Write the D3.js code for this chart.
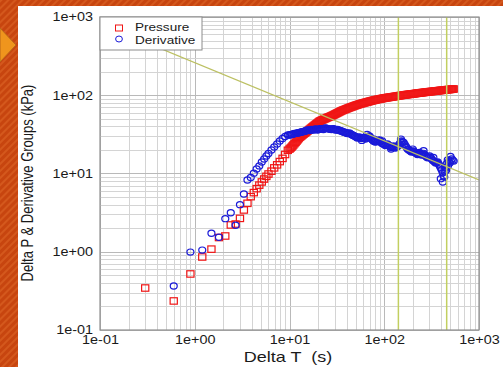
<!DOCTYPE html>
<html><head><meta charset="utf-8">
<script src="https://cdn.jsdelivr.net/npm/d3@7"></script>
<style>
body{margin:0;background:#fff;}
svg{display:block;}
text{font-family:"Liberation Sans",Arial,Helvetica,sans-serif;fill:#1a1a1a;white-space:pre;}
</style>
</head><body>
<svg id="c" width="503" height="367"></svg>
<script>
// ---- data ----
const earlyPressureTime = [0.3,0.6,0.9,1.2,1.5,1.8,2.1,2.4,2.7,3.0,3.3,3.6,3.9,4.2,4.5,4.8,5.1,5.4,5.7,6.0,6.45,6.9,7.4,7.9,8.45,9.0,9.6];
const earlyPressureValue = [0.344,0.235,0.52,0.857,1.08,1.52,1.59,2.20,2.26,2.67,3.42,4.16,5.06,5.7,6.4,7.1,7.8,8.5,9.2,9.85,10.7,11.8,12.9,14.2,15.6,17.5,19.8];
const earlyDerivativeTime = [0.6,0.9,1.2,1.5,1.8,2.1,2.4,2.7,3.0,3.3,3.6,3.9,4.2,4.5,4.8,5.1,5.4,5.7,6.0,6.45,6.9,7.4,7.9,8.45,9.0,9.6];
const earlyDerivativeValue = [0.365,0.99,1.05,1.72,1.53,2.65,3.15,2.18,4.0,5.47,8.26,8.9,10.1,11.4,12.5,14.0,15.3,16.7,18.0,20.0,21.8,23.8,26.0,28.0,29.7,31.0];
const lateTime = [10,10.5,11,11.6,12.2,12.8,13.4,14.1,14.8,15.5,16.3,17.1,17.9,18.8,19.7,20.7,21.7,22.8,23.9,25.1,26.4,27.7,29.1,30.5,32,33.6,35.3,37,38.9,40.8,42.8,45,47.2,49.6,52,54.6,57.4,60.2,63.2,66.4,69.7,73.2,76.9,80.7,84.7,89,93.4,98,103,108,113,119,125,131,138,145,152,160,168,176,185,194,204,214,225,236,248,260,273,287,301,316,332,349,366,385,404,424,445,468,491,516,541];
const latePressureValue = [20.5,21.7,23.2,25.0,27.0,29.0,30.3,31.9,33.4,34.9,36.7,38.5,40.3,42.2,44.1,46.3,47.7,49.1,50.3,51.8,53.0,54.4,55.9,57.6,59.3,61.1,63.1,64.6,66.1,67.7,69.3,70.8,72.3,74.0,75.3,76.9,78.2,79.4,80.8,82.0,83.4,84.7,86.0,87.2,88.3,89.3,90.4,91.5,92.5,93.3,94.1,95.0,95.9,96.7,97.8,98.7,99.6,100.4,101.3,102.2,102.8,103.8,104.4,105.3,106.3,106.9,107.9,108.5,109.4,110.4,111.0,111.7,112.3,113.3,114.0,115.0,115.6,116.3,117.0,118.0,118.6,119.5,120.2];
const lateDerivativeValue = [31.0,31.5,32.0,32.6,32.9,33.4,33.9,34.4,34.9,36.0,35.4,36.5,36.0,37.0,36.0,37.0,37.5,36.5,38.1,37.5,37.0,36.5,37.5,36.0,36.5,35.4,34.9,33.9,33.4,32.4,32.9,31.5,30.6,29.7,28.4,29.3,28.0,28.8,27.6,29.3,30.1,27.6,26.0,25.3,26.0,26.8,24.5,23.8,22.8,23.8,22.5,21.5,22.5,21.2,22.1,23.8,26.0,25.0,22.5,20.6,19.7,18.8,19.4,18.3,17.5,18.6,17.2,18.1,16.7,15.9,16.7,15.3,14.4,13.6,14.0,12.5,11.1,9.3,11.8,14.9,13.6,15.3,14.4];
const midTime = [10.25,10.75,11.3,11.9,12.5,13.1,13.75,14.45,15.15,15.9,16.7,17.5,18.35,19.25,20.2,21.2,22.25,23.35,24.5,25.75,27.05,28.4,29.8,31.25,32.8,34.45,36.15,37.95,39.85,41.8,43.9,46.1,48.4,50.8,53.3,56,58.8,61.7,64.8,68.05,71.45,75.05,78.8,82.7,86.85,91.2,95.7,100.5,105.5,110.5,116,122,128,134.5,141.5,148.5,156,164,172,180.5,189.5,199,209,219.5,230.5,242,254,266.5,280,294,308.5,324,340.5,357.5,375.5,394.5,414,434.5,456.5,479.5,503.5,528.5];
const midPressureValue = [21.1,22.45,24.1,26.0,28.0,29.65,31.1,32.65,34.15,35.8,37.6,39.4,41.25,43.15,45.2,47.0,48.4,49.7,51.05,52.4,53.7,55.15,56.75,58.45,60.2,62.1,63.85,65.35,66.9,68.5,70.05,71.55,73.15,74.65,76.1,77.55,78.8,80.1,81.4,82.7,84.05,85.35,86.6,87.75,88.8,89.85,90.95,92.0,92.9,93.7,94.55,95.45,96.3,97.25,98.25,99.15,100.0,100.85,101.75,102.5,103.3,104.1,104.85,105.8,106.6,107.4,108.2,108.95,109.9,110.7,111.35,112.0,112.8,113.65,114.5,115.3,115.95,116.65,117.5,118.3,119.05,119.85];
const midDerivativeValue = [31.3,31.8,32.4,32.7,33.2,33.6,34.2,34.6,35.5,35.7,36.0,36.3,36.5,36.6,36.5,37.3,37.0,37.3,37.8,37.2,36.8,37.0,36.7,36.3,35.9,35.2,34.4,33.6,32.9,32.6,32.2,31.0,30.1,29.0,28.8,28.6,28.4,28.2,28.4,29.7,28.8,26.8,25.6,25.6,26.4,25.6,24.1,23.3,23.3,23.1,22.0,22.0,21.8,21.6,22.9,24.9,25.5,23.7,21.5,20.1,19.2,19.1,18.8,17.9,18.0,17.9,17.6,17.4,16.3,16.3,16.0,14.8,14.0,13.8,13.2,11.8,10.2,10.5,13.3,14.2,14.4,14.8];
const scatterDerivativeTime = [58,66,78,95,118,150,200,260,330,395,415,430,440,450,470,500];
const scatterDerivativeValue = [26.5,31.5,27.5,26.0,20.5,27.5,20.5,19.5,16.0,8.6,7.8,9.0,12.0,11.0,12.5,16.5];

const pressureTime = earlyPressureTime.concat(lateTime, midTime);
const pressureValue = earlyPressureValue.concat(latePressureValue, midPressureValue);
const derivativeTime = earlyDerivativeTime.concat(lateTime, midTime, scatterDerivativeTime);
const derivativeValue = earlyDerivativeValue.concat(lateDerivativeValue, midDerivativeValue, scatterDerivativeValue);
const slopeLineTime = [0.1, 1000];
const slopeLineValue = [826, 8.26];
const markerTimes = [141, 456];
const xTickValues = [0.1, 1, 10, 100, 1000];
const xTickLabels = ["1e-01","1e+00","1e+01","1e+02","1e+03"];
const yTickValues = [0.1, 1, 10, 100, 1000];
const yTickLabels = ["1e-01","1e+00","1e+01","1e+02","1e+03"];
const legendLabels = ["Pressure","Derivative"];
const xTitle = "Delta T  (s)";
const yTitle = "Delta P & Derivative Groups (kPa)";

// ---- drawing ----
const W = 503, H = 367;
const L = 100, R = 479, T = 17, B = 330;
const RED = "#f01515", BLUE = "#1a1ad8", GREEN = "#c2cf60";
const svg = d3.select("#c");
const x = d3.scaleLog().domain([0.1, 1000]).range([L, R]);
const y = d3.scaleLog().domain([0.1, 1000]).range([B, T]);
const defs = svg.append("defs");
const pat = defs.append("pattern").attr("id","stripes").attr("patternUnits","userSpaceOnUse")
  .attr("width",5).attr("height",5).attr("patternTransform","rotate(45)");
pat.append("rect").attr("width",5).attr("height",5).attr("fill","#c7450f");
pat.append("rect").attr("width",2).attr("height",5).attr("fill","#d4581d");
defs.append("clipPath").attr("id","plot").append("rect").attr("x",L).attr("y",T).attr("width",R-L).attr("height",B-T);

svg.append("rect").attr("width",W).attr("height",H).attr("fill","url(#stripes)");
svg.append("rect").attr("x",18).attr("y",6).attr("width",W-18).attr("height",H-6).attr("fill","#fff");
svg.append("path").attr("d","M0,28L16,45L0,62Z").attr("fill","#ef951d").attr("stroke","#b8661a").attr("stroke-width",1);

const isMajor = d => Math.abs(Math.log10(d) - Math.round(Math.log10(d))) < 1e-9;
const grid = svg.append("g");
grid.selectAll("line.gx").data(x.ticks()).join("line").attr("class","gx")
  .attr("x1",d=>Math.round(x(d))+0.5).attr("x2",d=>Math.round(x(d))+0.5).attr("y1",T).attr("y2",B)
  .attr("stroke",d=>isMajor(d)?"#b9b9b9":"#d4d4d4").attr("stroke-width",1);
grid.selectAll("line.gy").data(y.ticks()).join("line").attr("class","gy")
  .attr("y1",d=>Math.round(y(d))+0.5).attr("y2",d=>Math.round(y(d))+0.5).attr("x1",L).attr("x2",R)
  .attr("stroke",d=>isMajor(d)?"#b9b9b9":"#d4d4d4").attr("stroke-width",1);

const plot = svg.append("g").attr("clip-path","url(#plot)");
plot.selectAll("rect.p").data(pressureTime.map((t,i)=>[t,pressureValue[i]])).join("rect").attr("class","p")
  .attr("x",d=>x(d[0])-3.6).attr("y",d=>y(d[1])-3.2).attr("width",7.2).attr("height",6.4)
  .attr("fill","none").attr("stroke",RED).attr("stroke-width",1.2);
plot.selectAll("ellipse.d").data(derivativeTime.map((t,i)=>[t,derivativeValue[i]])).join("ellipse").attr("class","d")
  .attr("cx",d=>x(d[0])).attr("cy",d=>y(d[1])).attr("rx",3.5).attr("ry",3.1)
  .attr("fill","none").attr("stroke",BLUE).attr("stroke-width",1.2);

plot.append("path").datum(slopeLineTime.map((t,i)=>[t,slopeLineValue[i]]))
  .attr("d",d3.line().x(d=>x(d[0])).y(d=>y(d[1]))).attr("fill","none").attr("stroke","#bcc062").attr("stroke-width",1.2);
plot.selectAll("line.v").data(markerTimes).join("line").attr("class","v")
  .attr("x1",d=>x(d)).attr("x2",d=>x(d)).attr("y1",T).attr("y2",B)
  .attr("stroke",GREEN).attr("stroke-width",1.5);

svg.append("rect").attr("x",L).attr("y",T).attr("width",R-L).attr("height",B-T)
  .attr("fill","none").attr("stroke","#909090").attr("stroke-width",1.2);

// legend
const lg = svg.append("g");
lg.append("rect").attr("x",L).attr("y",T).attr("width",102).attr("height",33)
  .attr("fill","#fff").attr("stroke","#8c8c8c").attr("stroke-width",1);
lg.append("rect").attr("x",115.5).attr("y",25).attr("width",7).attr("height",6)
  .attr("fill","none").attr("stroke",RED);
lg.append("ellipse").attr("cx",119).attr("cy",39).attr("rx",3.4).attr("ry",3)
  .attr("fill","none").attr("stroke",BLUE);
lg.selectAll("text").data(legendLabels).join("text").attr("class","st")
  .attr("x",135).attr("y",(d,i)=>31+i*12.5).style("font-size","11.3px").text(d=>d);

// axes
const xa = svg.append("g").attr("transform",`translate(0,${B})`)
  .call(d3.axisBottom(x).tickValues(xTickValues).tickFormat((d,i)=>xTickLabels[i]).tickSize(0).tickPadding(5));
const ya = svg.append("g").attr("transform",`translate(${L},0)`)
  .call(d3.axisLeft(y).tickValues(yTickValues).tickFormat((d,i)=>yTickLabels[i]).tickSize(0).tickPadding(7));
[xa,ya].forEach(a=>{
  a.select(".domain").remove();
  a.selectAll("text").attr("class","st").style("font-size","12px").attr("fill","#1a1a1a");
  a.attr("font-family",null).attr("font-size",null);
});

svg.append("text").attr("class","st").attr("x",288).attr("y",362).attr("text-anchor","middle")
  .attr("xml:space","preserve").style("font-size","15px").text(xTitle);
svg.append("text").attr("transform","translate(28,183) scale(1.2,1) rotate(-90)")
  .attr("text-anchor","middle").attr("dy","0.35em").style("font-size","13px").text(yTitle);

svg.selectAll("text.st").each(function(){
  const w = this.getComputedTextLength();
  this.setAttribute("textLength", (w*1.2).toFixed(2));
  this.setAttribute("lengthAdjust","spacingAndGlyphs");
});
</script>
</body></html>
